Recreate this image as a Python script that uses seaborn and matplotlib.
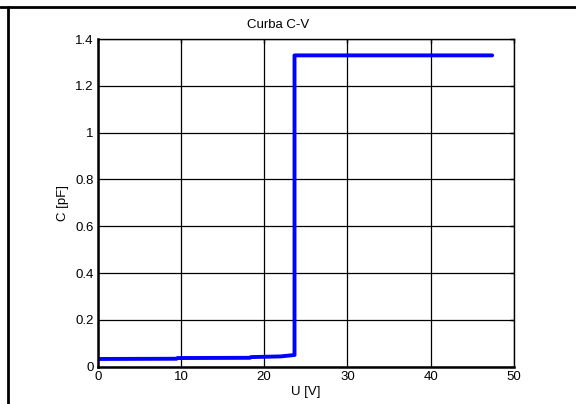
import matplotlib
matplotlib.use("Agg")
import matplotlib.pyplot as plt
import seaborn as sns
import pandas as pd
from matplotlib.lines import Line2D

U = [0.0, 9.5, 9.6, 18.3, 18.4, 22.0, 23.65, 23.65, 47.4]
C = [0.033, 0.034, 0.037, 0.038, 0.041, 0.044, 0.050, 1.330, 1.330]
x_ticks = [0, 10, 20, 30, 40, 50]
y_ticks = [0, 0.2, 0.4, 0.6, 0.8, 1, 1.2, 1.4]
y_tick_labels = ["0", "0.2", "0.4", "0.6", "0.8", "1", "1.2", "1.4"]

df = pd.DataFrame({"U": U, "C": C})

sns.set_theme(style="white")
plt.rcParams["font.family"] = ["Liberation Sans", "DejaVu Sans"]
fs = 9.5

fig = plt.figure(figsize=(5.76, 4.04), dpi=100)
ax = fig.add_axes([97.7 / 576, 1 - 366.7 / 404, (513.8 - 97.7) / 576, (366.7 - 39) / 404])

sns.lineplot(data=df, x="U", y="C", ax=ax, color="#0000ff", linewidth=2.8,
             sort=False, estimator=None)

ax.set_xlim(0, 50)
ax.set_ylim(0, 1.4)
ax.set_xticks(x_ticks)
ax.set_xticklabels([str(t) for t in x_ticks])
ax.set_yticks(y_ticks)
ax.set_yticklabels(y_tick_labels)
ax.grid(True, color="black", linewidth=0.9, linestyle="-")
ax.set_axisbelow(True)
ax.tick_params(direction="in", length=3, width=1, colors="black", labelsize=fs,
               top=True, right=True, pad=3)
for s in ["left", "bottom"]:
    ax.spines[s].set_linewidth(1.8)
for s in ["top", "right"]:
    ax.spines[s].set_linewidth(1.0)
for s in ax.spines.values():
    s.set_color("black")
    s.set_visible(True)

ax.set_xlabel("U [V]", fontsize=fs, color="black", labelpad=2)
ax.set_ylabel("C [pF]", fontsize=fs, color="black", labelpad=4.5)
ax.text(0.433, 1.025, "Curba C-V", transform=ax.transAxes, ha="center", va="bottom",
        fontsize=fs, color="black")

# outer frame lines
fig.add_artist(Line2D([0, 1], [1 - 7 / 404, 1 - 7 / 404], transform=fig.transFigure,
                      color="black", linewidth=2))
fig.add_artist(Line2D([8 / 576, 8 / 576], [0, 1 - 7 / 404], transform=fig.transFigure,
                      color="black", linewidth=2))

fig.savefig("out.png", dpi=100)
